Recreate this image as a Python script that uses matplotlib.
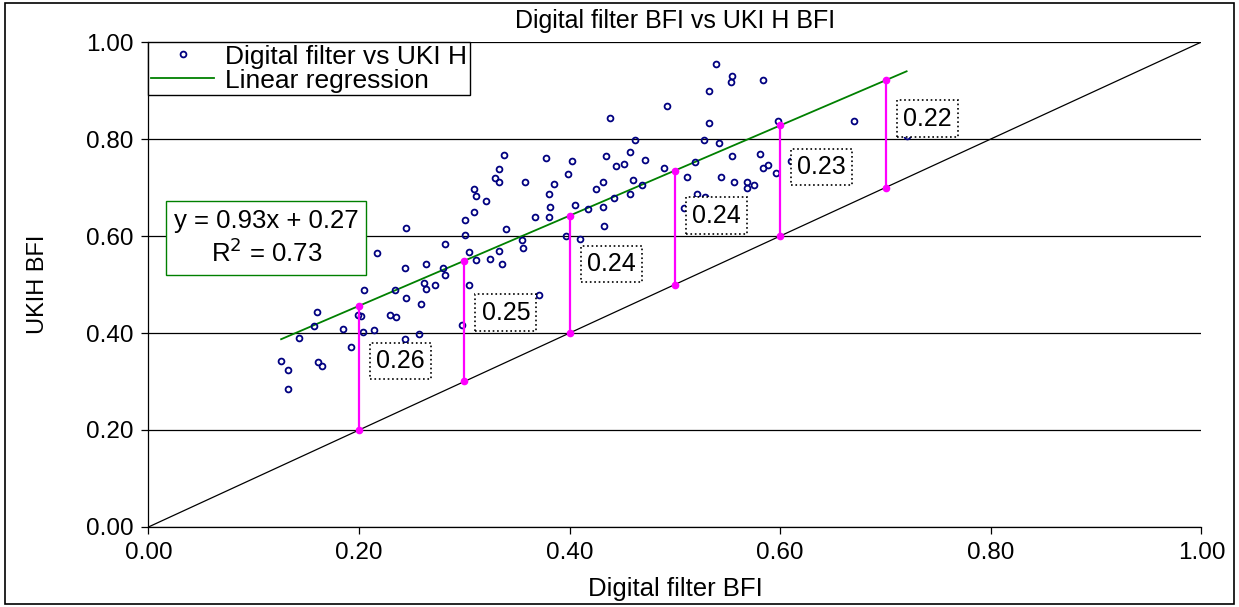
import numpy as np
import matplotlib.pyplot as plt
from matplotlib.patches import Rectangle

plt.rcParams['font.family'] = ['Liberation Sans', 'DejaVu Sans']

# digital filter BFI vs UKIH BFI
bfi_digital = [0.245, 0.217, 0.244, 0.264, 0.205, 0.234, 0.262, 0.264, 0.272, 0.245,
               0.259, 0.160, 0.199, 0.202, 0.229, 0.235, 0.157, 0.185, 0.204, 0.214,
               0.257, 0.143, 0.244, 0.192, 0.126, 0.161, 0.165, 0.133, 0.133,
               0.282, 0.301, 0.304, 0.311, 0.324, 0.280, 0.282, 0.304, 0.298, 0.340,
               0.433, 0.355, 0.397, 0.410, 0.356, 0.333, 0.336, 0.371,
               0.338, 0.333, 0.329, 0.333, 0.309, 0.311, 0.321, 0.309, 0.301, 0.378,
               0.402, 0.358, 0.385, 0.398, 0.380, 0.381, 0.367, 0.380, 0.405, 0.417,
               0.432, 0.425, 0.432, 0.435, 0.438,
               0.462, 0.457, 0.444, 0.452, 0.472, 0.460, 0.469, 0.457, 0.442,
               0.539, 0.554, 0.553, 0.584, 0.532, 0.492, 0.532, 0.598, 0.528, 0.542,
               0.554, 0.519, 0.490, 0.581, 0.584, 0.588, 0.596, 0.511, 0.544, 0.556,
               0.568, 0.568, 0.575, 0.521, 0.529, 0.509,
               0.670, 0.720, 0.618, 0.610]
bfi_ukih = [0.616, 0.564, 0.533, 0.542, 0.489, 0.489, 0.504, 0.490, 0.498, 0.473,
            0.459, 0.443, 0.437, 0.435, 0.437, 0.434, 0.415, 0.409, 0.403, 0.406,
            0.398, 0.390, 0.387, 0.371, 0.343, 0.341, 0.332, 0.324, 0.285,
            0.583, 0.602, 0.566, 0.551, 0.553, 0.535, 0.520, 0.500, 0.417, 0.614,
            0.621, 0.592, 0.600, 0.594, 0.575, 0.569, 0.542, 0.478,
            0.768, 0.738, 0.719, 0.711, 0.696, 0.682, 0.672, 0.650, 0.634, 0.760,
            0.755, 0.711, 0.708, 0.727, 0.686, 0.660, 0.639, 0.639, 0.664, 0.655,
            0.660, 0.696, 0.711, 0.764, 0.844,
            0.797, 0.774, 0.744, 0.749, 0.757, 0.716, 0.705, 0.686, 0.678,
            0.955, 0.929, 0.918, 0.921, 0.899, 0.868, 0.832, 0.838, 0.797, 0.791,
            0.764, 0.752, 0.741, 0.769, 0.741, 0.746, 0.730, 0.722, 0.722, 0.711,
            0.711, 0.700, 0.705, 0.686, 0.680, 0.658,
            0.838, 0.806, 0.772, 0.755]

slope = 0.93
intercept = 0.27
r2 = 0.73

# where the difference between regression and 1:1 line is marked
diff_x = [0.2, 0.3, 0.4, 0.5, 0.6, 0.7]
diff_labels = ['0.26', '0.25', '0.24', '0.24', '0.23', '0.22']

x = np.array(bfi_digital)
y = np.array(bfi_ukih)

fig = plt.figure(figsize=(12.39, 6.07), dpi=100)
ax = fig.add_axes([0.1198, 0.1318, 0.8499, 0.799])

ax.grid(axis='y', color='black', lw=0.9)
ax.set_axisbelow(True)

ax.plot([0, 1], [0, 1], color='black', lw=0.9, zorder=2)

xr = np.array([x.min(), x.max()])
ax.plot(xr, slope * xr + intercept, color='#008000', lw=1.3, zorder=3,
        label='Linear regression')

ax.plot(x, y, 'o', ms=4.2, mfc='none', mec='#000080', mew=1.3, zorder=4,
        label='Digital filter vs UKI H')

for dx, lab in zip(diff_x, diff_labels):
    top = slope * dx + intercept
    ax.plot([dx, dx], [dx, top], color='#ff00ff', lw=1.6, zorder=5)
    ax.plot([dx, dx], [dx, top], 'o', color='#ff00ff', ms=4.5, zorder=5)
    ax.text(dx + 0.0395, dx + 0.142, lab, fontsize=18, ha='center', va='center',
            zorder=6,
            bbox=dict(boxstyle='square,pad=0.25', fc='white', ec='black',
                      ls=':', lw=1.2))

ax.text(0.112, 0.596, 'y = 0.93x + 0.27\nR$^2$ = 0.73', fontsize=18.5,
        ha='center', va='center', linespacing=1.25, zorder=6,
        bbox=dict(boxstyle='square,pad=0.3', fc='white', ec='#008000', lw=1))

ax.set_xlim(0, 1)
ax.set_ylim(0, 1)
ax.set_xticks(np.arange(0, 1.01, 0.2))
ax.set_yticks(np.arange(0, 1.01, 0.2))
ax.xaxis.set_major_formatter(plt.FormatStrFormatter('%.2f'))
ax.yaxis.set_major_formatter(plt.FormatStrFormatter('%.2f'))
ax.tick_params(labelsize=17.5, direction='out', length=5, width=0.9, pad=6)
for side in ['top', 'right']:
    ax.spines[side].set_visible(False)
for side in ['left', 'bottom']:
    ax.spines[side].set_linewidth(0.9)

ax.set_title('Digital filter BFI vs UKI H BFI', fontsize=18, pad=10)
ax.set_xlabel('Digital filter BFI', fontsize=18.5, labelpad=9)
ax.set_ylabel('UKIH BFI', fontsize=17, labelpad=26)

handles, labels = ax.get_legend_handles_labels()
leg = ax.legend(handles[::-1], labels[::-1], loc='upper left', fontsize=19,
                frameon=True, fancybox=False, edgecolor='black', framealpha=1,
                borderaxespad=0, borderpad=0.1, handlelength=2.4,
                labelspacing=0.0, handletextpad=0.4)
leg.get_frame().set_linewidth(1)

fig.patches.append(Rectangle((0.004, 0.005), 0.992, 0.99, transform=fig.transFigure,
                             fill=False, ec='black', lw=1.2))

fig.savefig('out.png', dpi=100)
